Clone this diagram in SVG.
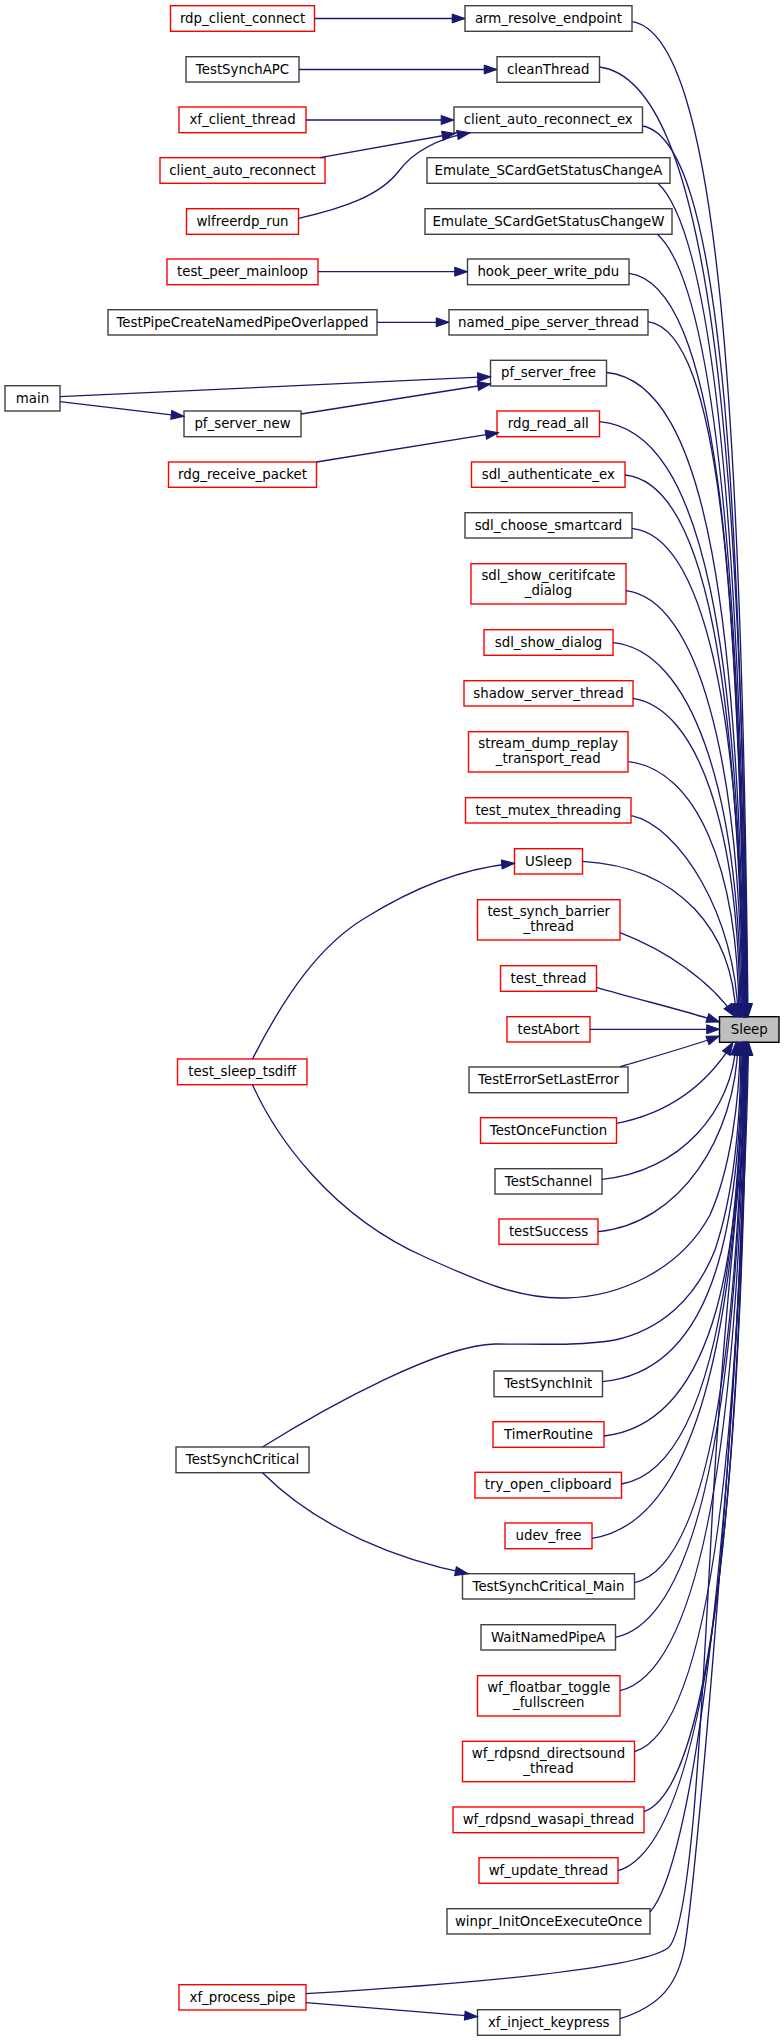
<svg xmlns="http://www.w3.org/2000/svg" width="784" height="2041" viewBox="0 0 784 2041">
<style>
.n rect{fill:#ffffff;stroke:#404040;stroke-width:1.4}
.r rect{stroke:#ff0000}
.s rect{fill:#bfbfbf;stroke:#000000}
text{font-family:"DejaVu Sans","Liberation Sans",sans-serif;font-size:13.33px;text-anchor:middle;fill:#000000}
.e path{fill:none;stroke:#191970;stroke-width:1.33;marker-end:url(#ah)}
</style>
<defs>
<marker id="ah" viewBox="0 0 14 10" refX="13.3" refY="5" markerWidth="14" markerHeight="10" markerUnits="userSpaceOnUse" orient="auto" overflow="visible">
<path d="M0.5,0.5 L13.3,5 L0.5,9.5 z" fill="#191970" stroke="#191970" stroke-width="1"/>
</marker>
</defs>
<rect x="0" y="0" width="784" height="2041" fill="#ffffff"/>

<g id="n_Sleep" class="n s"><rect x="719.5" y="1016.7" width="59.5" height="25.6"/><text x="749.25" y="1033.8">Sleep</text></g>

<g id="n_arm_resolve_endpoint" class="n"><rect x="465" y="5.7" width="167" height="25.6"/><text x="548.5" y="22.8">arm_resolve_endpoint</text></g>
<g id="n_cleanThread" class="n"><rect x="497" y="56.7" width="102.5" height="25.6"/><text x="548.25" y="73.8">cleanThread</text></g>
<g id="n_client_auto_reconnect_ex" class="n"><rect x="454" y="107" width="188.5" height="25.7"/><text x="548.25" y="124.1">client_auto_reconnect_ex</text></g>
<g id="n_Emulate_SCardGetStatusChangeA" class="n"><rect x="427" y="157.7" width="243" height="25.6"/><text x="548.5" y="174.8">Emulate_SCardGetStatusChangeA</text></g>
<g id="n_Emulate_SCardGetStatusChangeW" class="n"><rect x="425" y="208.7" width="247" height="25.6"/><text x="548.5" y="225.8">Emulate_SCardGetStatusChangeW</text></g>
<g id="n_hook_peer_write_pdu" class="n"><rect x="467.5" y="259" width="161.5" height="25.7"/><text x="548.25" y="276.1">hook_peer_write_pdu</text></g>
<g id="n_named_pipe_server_thread" class="n"><rect x="449" y="309.7" width="199" height="25.3"/><text x="548.5" y="326.8">named_pipe_server_thread</text></g>
<g id="n_pf_server_free" class="n"><rect x="490.5" y="360.3" width="116" height="25.7"/><text x="548.5" y="377.4">pf_server_free</text></g>
<g id="n_rdg_read_all" class="n r"><rect x="497" y="411" width="102.5" height="25.7"/><text x="548.25" y="428.1">rdg_read_all</text></g>
<g id="n_sdl_authenticate_ex" class="n r"><rect x="471.5" y="462" width="153.5" height="25.3"/><text x="548.25" y="479.1">sdl_authenticate_ex</text></g>
<g id="n_sdl_choose_smartcard" class="n"><rect x="465" y="512.7" width="167" height="25.3"/><text x="548.5" y="529.8">sdl_choose_smartcard</text></g>
<g id="n_sdl_show_ceritifcate_dialog" class="n r"><rect x="471" y="563.7" width="155" height="40.3"/><text x="548.5" y="580.3">sdl_show_ceritifcate</text><text x="548.5" y="595.3">_dialog</text></g>
<g id="n_sdl_show_dialog" class="n r"><rect x="484" y="629.7" width="129" height="25.6"/><text x="548.5" y="646.8">sdl_show_dialog</text></g>
<g id="n_shadow_server_thread" class="n r"><rect x="464" y="680.7" width="169" height="25.3"/><text x="548.5" y="697.8">shadow_server_thread</text></g>
<g id="n_stream_dump_replay_transport_read" class="n r"><rect x="468.5" y="731.7" width="159.5" height="40.3"/><text x="548.25" y="748.3">stream_dump_replay</text><text x="548.25" y="763.3">_transport_read</text></g>
<g id="n_test_mutex_threading" class="n r"><rect x="465.5" y="797.7" width="165.5" height="25.3"/><text x="548.25" y="814.8">test_mutex_threading</text></g>
<g id="n_USleep" class="n r"><rect x="514.5" y="848.7" width="68" height="25.3"/><text x="548.5" y="865.8">USleep</text></g>
<g id="n_test_synch_barrier_thread" class="n r"><rect x="477.5" y="899.7" width="142.5" height="40.3"/><text x="548.75" y="916.3">test_synch_barrier</text><text x="548.75" y="931.3">_thread</text></g>
<g id="n_test_thread" class="n r"><rect x="500.5" y="965.7" width="96" height="25.6"/><text x="548.5" y="982.8">test_thread</text></g>
<g id="n_testAbort" class="n r"><rect x="507" y="1016.7" width="83" height="25.3"/><text x="548.5" y="1033.8">testAbort</text></g>
<g id="n_TestErrorSetLastError" class="n"><rect x="469" y="1067" width="159" height="25.7"/><text x="548.5" y="1084.1">TestErrorSetLastError</text></g>
<g id="n_TestOnceFunction" class="n r"><rect x="480.5" y="1117.7" width="136" height="25.6"/><text x="548.5" y="1134.8">TestOnceFunction</text></g>
<g id="n_TestSchannel" class="n"><rect x="495" y="1168.7" width="107" height="25.3"/><text x="548.5" y="1185.8">TestSchannel</text></g>
<g id="n_testSuccess" class="n r"><rect x="499" y="1219" width="99" height="25.3"/><text x="548.5" y="1236.1">testSuccess</text></g>
<g id="n_TestSynchInit" class="n"><rect x="494" y="1371" width="108.5" height="25.7"/><text x="548.25" y="1388.1">TestSynchInit</text></g>
<g id="n_TimerRoutine" class="n r"><rect x="493" y="1421.7" width="111" height="25.6"/><text x="548.5" y="1438.8">TimerRoutine</text></g>
<g id="n_try_open_clipboard" class="n r"><rect x="475" y="1472.3" width="146.5" height="25.7"/><text x="548.25" y="1489.4">try_open_clipboard</text></g>
<g id="n_udev_free" class="n r"><rect x="505" y="1523" width="87" height="25.7"/><text x="548.5" y="1540.1">udev_free</text></g>
<g id="n_TestSynchCritical_Main" class="n"><rect x="462.5" y="1573.7" width="172" height="25.3"/><text x="548.5" y="1590.8">TestSynchCritical_Main</text></g>
<g id="n_WaitNamedPipeA" class="n"><rect x="481" y="1624.7" width="134.5" height="25.3"/><text x="548.25" y="1641.8">WaitNamedPipeA</text></g>
<g id="n_wf_floatbar_toggle_fullscreen" class="n r"><rect x="477.5" y="1675.7" width="142.5" height="40.3"/><text x="548.75" y="1692.3">wf_floatbar_toggle</text><text x="548.75" y="1707.3">_fullscreen</text></g>
<g id="n_wf_rdpsnd_directsound_thread" class="n r"><rect x="462.5" y="1741.3" width="172" height="40.4"/><text x="548.5" y="1757.9">wf_rdpsnd_directsound</text><text x="548.5" y="1772.9">_thread</text></g>
<g id="n_wf_rdpsnd_wasapi_thread" class="n r"><rect x="453" y="1807" width="191" height="25.7"/><text x="548.5" y="1824.1">wf_rdpsnd_wasapi_thread</text></g>
<g id="n_wf_update_thread" class="n r"><rect x="479" y="1857.7" width="139" height="25.6"/><text x="548.5" y="1874.8">wf_update_thread</text></g>
<g id="n_winpr_InitOnceExecuteOnce" class="n"><rect x="447" y="1908.7" width="203" height="25.3"/><text x="548.5" y="1925.8">winpr_InitOnceExecuteOnce</text></g>
<g id="n_xf_inject_keypress" class="n"><rect x="477.5" y="2009.7" width="142.5" height="25.6"/><text x="548.75" y="2026.8">xf_inject_keypress</text></g>

<g id="n_rdp_client_connect" class="n r"><rect x="170.5" y="5.7" width="144" height="25.6"/><text x="242.5" y="22.8">rdp_client_connect</text></g>
<g id="n_TestSynchAPC" class="n"><rect x="186" y="56.7" width="113" height="25.3"/><text x="242.5" y="73.8">TestSynchAPC</text></g>
<g id="n_xf_client_thread" class="n r"><rect x="179" y="107" width="127" height="25.7"/><text x="242.5" y="124.1">xf_client_thread</text></g>
<g id="n_client_auto_reconnect" class="n r"><rect x="160" y="157.7" width="165" height="25.6"/><text x="242.5" y="174.8">client_auto_reconnect</text></g>
<g id="n_wlfreerdp_run" class="n r"><rect x="186.5" y="208.7" width="112" height="25.6"/><text x="242.5" y="225.8">wlfreerdp_run</text></g>
<g id="n_test_peer_mainloop" class="n r"><rect x="167" y="259" width="151" height="25.7"/><text x="242.5" y="276.1">test_peer_mainloop</text></g>
<g id="n_TestPipeCreateNamedPipeOverlapped" class="n"><rect x="108" y="309.7" width="269" height="25.3"/><text x="242.5" y="326.8">TestPipeCreateNamedPipeOverlapped</text></g>
<g id="n_pf_server_new" class="n"><rect x="184" y="411" width="117" height="25.7"/><text x="242.5" y="428.1">pf_server_new</text></g>
<g id="n_rdg_receive_packet" class="n r"><rect x="168.5" y="462" width="148" height="25.3"/><text x="242.5" y="479.1">rdg_receive_packet</text></g>
<g id="n_test_sleep_tsdiff" class="n r"><rect x="177.5" y="1059" width="129.5" height="25.7"/><text x="242.25" y="1076.1">test_sleep_tsdiff</text></g>
<g id="n_TestSynchCritical" class="n"><rect x="176" y="1447" width="133" height="25.7"/><text x="242.5" y="1464.1">TestSynchCritical</text></g>
<g id="n_xf_process_pipe" class="n r"><rect x="179" y="1984.7" width="127" height="25.3"/><text x="242.5" y="2001.8">xf_process_pipe</text></g>
<g id="n_main" class="n"><rect x="5" y="385.7" width="55" height="25.3"/><text x="32.5" y="402.8">main</text></g>

<g id="edges" class="e">
<path d="M632.5,21.7 C719.1,36.6 742,419.7 748,1016.7"/>
<path d="M599.5,67 C710.5,81.2 741.5,446.9 747.5,1016.7"/>
<path d="M642.5,126 C720.9,139.4 741,482.3 747,1016.7"/>
<path d="M658,183.3 C711.1,233.3 740.5,516.7 746.5,1016.7"/>
<path d="M657.3,234.3 C710.5,281.2 740,547.3 746,1016.7"/>
<path d="M629,273.3 C716.4,284.5 739.5,570.7 745.5,1016.7"/>
<path d="M648,321.7 C720.8,332.1 739,599.7 745,1016.7"/>
<path d="M606.5,372.5 C710,382.2 738.5,630.2 744.5,1016.7"/>
<path d="M599.5,421.7 C707.9,430.6 738,659.7 744,1016.7"/>
<path d="M625,475 C708,483.1 737.5,691.7 743.5,1016.7"/>
<path d="M632,528.3 C700.8,535.6 742,699.2 743,1016.7"/>
<path d="M626,590.7 C695.6,599.2 741,752.6 742,1016.7"/>
<path d="M613,642.7 C689.8,650.2 740,784.8 741,1016.7"/>
<path d="M633,698.3 C697,707.9 739,825.7 740,1016.7"/>
<path d="M628.5,761.7 C694.8,769.4 738,863.7 739,1016.7"/>
<path d="M631.5,815.7 C679.4,825.8 736,916.2 738,1016.7"/>
<path d="M582.5,861.3 C680,867 733,931.2 736,1016.7"/>
<path d="M620,932.7 C665,950 710,980 735,1016.7"/>
<path d="M596.5,987.3 C640,1000 690,1012 719.5,1022"/>
<path d="M590,1029.3 L719.5,1029.3"/>
<path d="M620,1066.7 C660,1055 695,1045 719.5,1036"/>
<path d="M616.5,1123.3 C675,1112 710,1080 733,1042.3"/>
<path d="M602,1179.3 C680,1172 733,1110.8 736,1042.3"/>
<path d="M598,1231.7 C680,1224 736,1137 738,1042.3"/>
<path d="M252.5,1084.7 C275,1135 330,1215 425,1257 C480,1282 520,1299 565,1298 C620,1297 680,1270 710,1215 C730,1170 740,1100 740,1042.3"/>
<path d="M262.5,1447 C330,1405 440,1345 495,1344 C540,1344 580,1346 615,1340 C660,1330 695,1300 715,1250 C735,1190 741,1110 741,1042.3"/>
<path d="M602.5,1381.7 C707.1,1371.5 741,1245.9 742,1042.3"/>
<path d="M604,1436 C708.3,1424.2 742,1278.5 743,1042.3"/>
<path d="M621.5,1484 C701,1470.7 737.5,1307.3 743.5,1042.3"/>
<path d="M592,1538.3 C694,1523.4 738,1339.9 744,1042.3"/>
<path d="M634.5,1582.7 C705,1566.5 738.5,1366.5 744.5,1042.3"/>
<path d="M615.5,1637.3 C700.6,1619.4 739,1399.3 745,1042.3"/>
<path d="M620,1690.7 C702.1,1671.2 739.5,1431.3 745.5,1042.3"/>
<path d="M634.5,1751.7 C706.1,1730.4 740,1467.9 746,1042.3"/>
<path d="M644,1811.7 C708.9,1788.6 740.5,1503.9 746.5,1042.3"/>
<path d="M618,1870.7 C702.75,1845.8 741,1539.3 747,1042.3"/>
<path d="M650,1912 C690,1868.5 735,1564 747.5,1042.3"/>
<path d="M306,1993.7 C480,1983 640,1968 668,1948 C690,1930 700,1750 712,1520 C724,1290 746,1150 748,1042.3"/>
<path d="M620,2018.7 C660,2006 678,1985 685,1945 C700,1850 745,1300 748.5,1042.3"/>
<path d="M314.5,18.5 L465,18.5"/>
<path d="M299,69.5 L497,69.5"/>
<path d="M306,120 L454,120"/>
<path d="M320,157.7 L455,133.5"/>
<path d="M298.5,218.3 C345,208 380,195 398,172 C410,156 430,140 470,132.7"/>
<path d="M318,271.7 L467.5,271.7"/>
<path d="M377,322.3 L449,322.3"/>
<path d="M60,396.7 L490.5,376.7"/>
<path d="M60,401.7 L184,416.3"/>
<path d="M301,414 L490.5,384"/>
<path d="M316.5,462 L498.5,432.7"/>
<path d="M252.5,1059 C285,995 320,945 365,918 C410,890 460,868 514.5,863.3"/>
<path d="M262.5,1472.7 C320,1530 400,1560 468,1573.7"/>
<path d="M306,2002.7 L477.5,2016.7"/>
</g>
</svg>
